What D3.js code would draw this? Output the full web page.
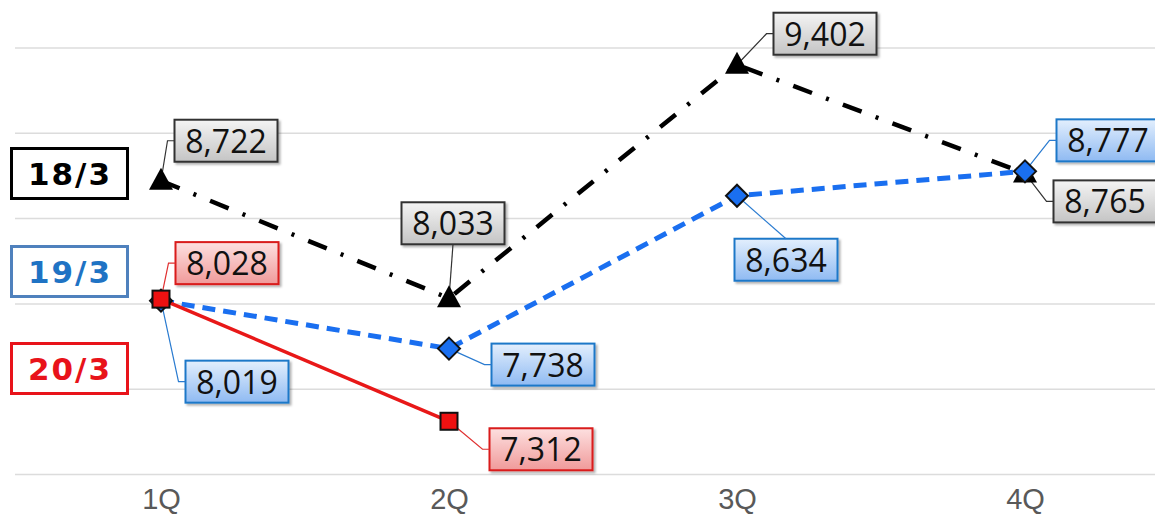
<!DOCTYPE html>
<html>
<head>
<meta charset="utf-8">
<script src="https://cdn.jsdelivr.net/npm/d3@7"></script>
<style>
  body { margin: 0; background: #fff; }
  svg { display: block; }
</style>
</head>
<body>
<div id="chart-area"></div>
<script>
// data
var quarters = ['1Q', '2Q', '3Q', '4Q'];
var names = ['18/3', '19/3', '20/3'];
var vals18 = [8722, 8033, 9402, 8765];
var vals19 = [8019, 7738, 8634, 8777];
var vals20 = [8028, 7312];
var yTicks = [7000, 7500, 8000, 8500, 9000, 9500];

// where each value box sits relative to its point (dx, dy of box centre)
var labelPos18 = [[65, -40], [4, -75], [88, -31], [80, 28]];
var labelPos19 = [[76, 81], [94, 16], [49, 64], [83, -31]];
var labelPos20 = [[66, -36], [92, 28]];

var width = 1155, height = 516;

var svg = d3.select('#chart-area').append('svg')
    .attr('width', width)
    .attr('height', height);

var defs = svg.append('defs');
function grad(id, c1, c2) {
    var g = defs.append('linearGradient').attr('id', id)
        .attr('x1', 0).attr('y1', 0).attr('x2', 0).attr('y2', 1);
    g.append('stop').attr('offset', '0%').attr('stop-color', c1);
    g.append('stop').attr('offset', '100%').attr('stop-color', c2);
}
grad('gGray', '#f4f4f4', '#c4c4c4');
grad('gBlue', '#e3effd', '#8fbaf2');
grad('gRed', '#fde0e0', '#f09a9a');
var sh = defs.append('filter').attr('id', 'shadow')
    .attr('x', '-10%').attr('y', '-10%').attr('width', '130%').attr('height', '140%');
sh.append('feDropShadow').attr('dx', 2).attr('dy', 2).attr('stdDeviation', 1.2)
    .attr('flood-color', '#000').attr('flood-opacity', 0.3);

var x = d3.scalePoint()
    .domain(quarters)
    .range([161, 1025]);

var y = d3.scaleLinear()
    .domain([7000, 9500])
    .range([474.5, 48]);

// gridlines
svg.append('g')
    .selectAll('line')
    .data(yTicks)
    .enter()
    .append('line')
        .attr('x1', 15)
        .attr('x2', width)
        .attr('y1', function(d){ return y(d); })
        .attr('y2', function(d){ return y(d); })
        .attr('stroke', '#dcdcdc')
        .attr('stroke-width', 1.5);

// x axis labels
var axisX = d3.axisBottom(x).tickSize(0).tickPadding(0);
var ax = svg.append('g')
    .attr('transform', 'translate(0,' + 488 + ')')
    .call(axisX);
ax.select('.domain').remove();
ax.selectAll('text')
    .attr('dy', '0.74em')
    .attr('font-family', 'Liberation Sans, Arial, sans-serif')
    .attr('font-size', 29)
    .attr('fill', '#595959');

var series = [
    { name: names[0], vals: vals18, pos: labelPos18, color: '#000000', line: '#000', width: 4.5, dash: '20 15 3 15', fill: 'url(#gGray)', border: '#333', lead: '#333', marker: 'triangle' },
    { name: names[1], vals: vals19, pos: labelPos19, color: '#1f73c4', line: '#1a6ff0', width: 5, dash: '13 8', fill: 'url(#gBlue)', border: '#1f78c8', lead: '#2a7bd0', marker: 'diamond' },
    { name: names[2], vals: vals20, pos: labelPos20, color: '#e8131a', line: '#e81818', width: 3.5, dash: null, fill: 'url(#gRed)', border: '#d91a1a', lead: '#e03030', marker: 'square' }
];

var line = d3.line()
    .x(function(d, i){ return x(quarters[i]); })
    .y(function(d){ return y(d); });

// lines
series.forEach(function(s){
    svg.append('path')
        .attr('d', line(s.vals))
        .attr('fill', 'none')
        .attr('stroke', s.line)
        .attr('stroke-width', s.width)
        .attr('stroke-dasharray', s.dash);
});

// leaders + value boxes
var bw = 103, bh = 42;
var labelLayer = svg.append('g');
var leaderLayer = svg.append('g');
series.forEach(function(s){
    s.vals.forEach(function(v, i){
        var px = x(quarters[i]), py = y(v);
        var cx = px + s.pos[i][0], cy = py + s.pos[i][1];
        var pts;
        if (Math.abs(s.pos[i][0]) <= bw / 2) {
            var ey = s.pos[i][1] < 0 ? cy + bh / 2 : cy - bh / 2;
            pts = [[px, py], [cx, ey]];
        } else {
            var lx = cx - bw / 2;
            pts = [[px, py], [lx - 7, cy], [lx, cy]];
        }
        leaderLayer.append('path')
            .attr('d', d3.line()(pts))
            .attr('fill', 'none')
            .attr('stroke', s.lead)
            .attr('stroke-width', 1.2);

        var g = labelLayer.append('g').attr('transform', 'translate(' + cx + ',' + cy + ')');
        g.append('rect')
            .attr('x', -bw / 2).attr('y', -bh / 2)
            .attr('width', bw).attr('height', bh)
            .attr('fill', s.fill)
            .attr('stroke', s.border)
            .attr('stroke-width', 2)
            .attr('filter', 'url(#shadow)');
        g.append('text')
            .attr('text-anchor', 'middle')
            .attr('y', 12)
            .attr('font-family', 'Open Sans, Noto Sans, sans-serif')
            .attr('font-size', 32)
            .attr('fill', '#111')
            .text(d3.format(',')(v));
    });
});

// markers
var markerLayer = svg.append('g');
series.forEach(function(s){
    s.vals.forEach(function(v, i){
        var px = x(quarters[i]), py = y(v);
        if (s.marker == 'triangle') {
            markerLayer.append('path')
                .attr('d', 'M' + px + ',' + (py - 13) + 'L' + (px + 12) + ',' + (py + 9) + 'L' + (px - 12) + ',' + (py + 9) + 'Z')
                .attr('fill', '#000');
        } else if (s.marker == 'diamond') {
            markerLayer.append('path')
                .attr('d', 'M' + px + ',' + (py - 11) + 'L' + (px + 11) + ',' + py + 'L' + px + ',' + (py + 11) + 'L' + (px - 11) + ',' + py + 'Z')
                .attr('fill', '#1a6ff0')
                .attr('stroke', '#111')
                .attr('stroke-width', 2);
        } else {
            markerLayer.append('rect')
                .attr('x', px - 8.5).attr('y', py - 8.5)
                .attr('width', 17).attr('height', 17)
                .attr('fill', '#ee1111')
                .attr('stroke', '#111')
                .attr('stroke-width', 2);
        }
    });
});

// legend boxes on the left
var legendY = [147, 245, 342];
var legend = svg.append('g')
    .selectAll('g')
    .data(series)
    .enter()
    .append('g')
        .attr('transform', function(d, i){ return 'translate(10,' + legendY[i] + ')'; });
legend.append('rect')
    .attr('x', 1.5).attr('y', 1.5)
    .attr('width', 116).attr('height', 50)
    .attr('fill', '#fff')
    .attr('stroke', function(d, i){ return ['#000', '#4f81bd', '#e8131a'][i]; })
    .attr('stroke-width', 3);
legend.append('text')
    .attr('x', 60)
    .attr('y', 38)
    .attr('text-anchor', 'middle')
    .attr('font-family', 'DejaVu Sans, Verdana, sans-serif')
    .attr('font-weight', 'bold')
    .attr('font-size', 31)
    .attr('letter-spacing', 2)
    .attr('fill', function(d){ return d.color; })
    .text(function(d){ return d.name; });
</script>
</body>
</html>
